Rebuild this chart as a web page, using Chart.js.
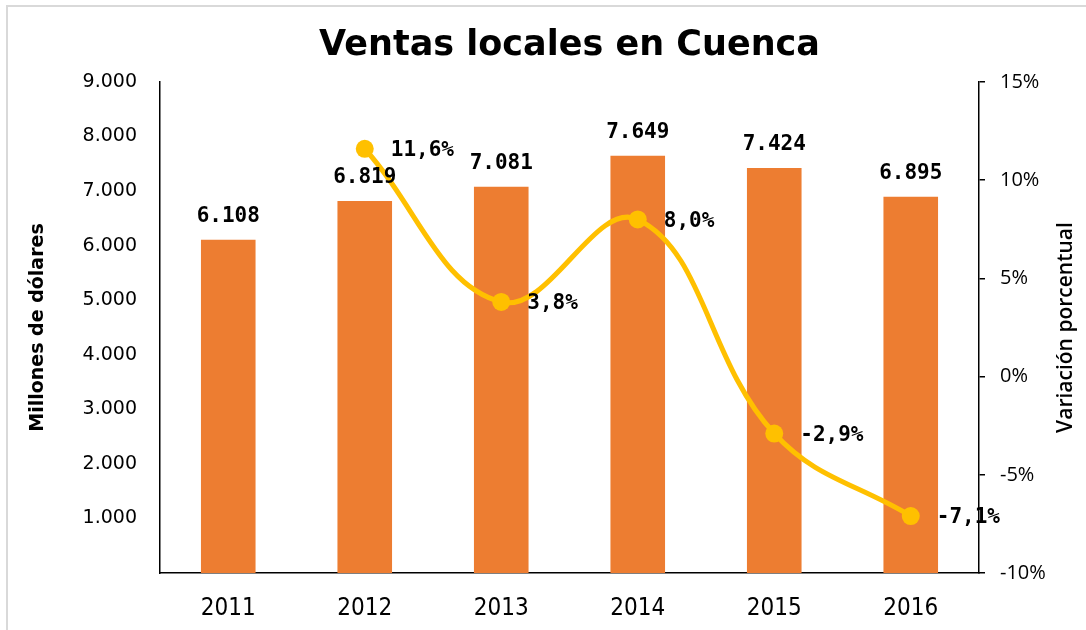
<!DOCTYPE html>
<html>
<head>
<meta charset="utf-8">
<script src="https://cdn.jsdelivr.net/npm/chart.js@4.4.1/dist/chart.umd.min.js"></script>
<style>
html,body{margin:0;padding:0;background:#fff;}
#wrap{width:1086px;height:630px;position:relative;}
</style>
</head>
<body>
<div id="wrap"><canvas id="c" width="1086" height="630"></canvas></div>
<script>
const categories = ['2011','2012','2013','2014','2015','2016'];
const ventas = [6108, 6819, 7081, 7649, 7424, 6895];
const variacion = [null, 11.6, 3.8, 8.0, -2.9, -7.1];
const leftTicks = [0, 1000, 2000, 3000, 4000, 5000, 6000, 7000, 8000, 9000];
const rightTicks = [-10, -5, 0, 5, 10, 15];

function fmtThousands(v){
  return String(Math.round(v)).replace(/\B(?=(\d{3})+(?!\d))/g, '.');
}
function fmtPct(v){
  return v.toFixed(1).replace('.', ',') + '%';
}

const decoPlugin = {
  id: 'deco',
  beforeDraw(chart){
    const ctx = chart.ctx;
    ctx.save();
    ctx.fillStyle = '#fff';
    ctx.fillRect(0,0,chart.width,chart.height);
    ctx.strokeStyle = '#d9d9d9';
    ctx.lineWidth = 2;
    ctx.strokeRect(7, 6, chart.width + 20, chart.height + 20);
    ctx.restore();
  },
  afterDraw(chart){
    const ctx = chart.ctx;
    const ca = chart.chartArea;
    const cy = (ca.top + ca.bottom) / 2;
    ctx.save();
    ctx.fillStyle = '#000';
    ctx.textAlign = 'center';
    ctx.textBaseline = 'middle';
    ctx.save();
    ctx.translate(38, cy);
    ctx.rotate(-Math.PI/2);
    ctx.font = 'bold 19px "DejaVu Sans"';
    ctx.fillText('Millones de dólares', 0, 0);
    ctx.restore();
    ctx.save();
    ctx.translate(1066, cy);
    ctx.rotate(-Math.PI/2);
    ctx.font = '600 21px "Open Sans"';
    ctx.fillText('Variación porcentual', 0, 0);
    ctx.restore();
    ctx.restore();
  },
  afterDatasetsDraw(chart){
    const ctx = chart.ctx;
    ctx.save();
    ctx.fillStyle = '#000';
    ctx.font = 'bold 21px "DejaVu Sans Mono"';
    const barMeta = chart.getDatasetMeta(0);
    barMeta.data.forEach((el, i) => {
      ctx.textAlign = 'center';
      ctx.textBaseline = 'alphabetic';
      ctx.fillText(fmtThousands(ventas[i]), el.x, el.y - 18);
    });
    const lineMeta = chart.getDatasetMeta(1);
    lineMeta.data.forEach((el, i) => {
      if (variacion[i] === null) return;
      ctx.textAlign = 'left';
      ctx.textBaseline = 'middle';
      ctx.fillText(fmtPct(variacion[i]), el.x + 26, el.y + 2);
    });
    ctx.restore();
  }
};

new Chart(document.getElementById('c'), {
  data: {
    labels: categories,
    datasets: [
      {
        type: 'bar',
        label: 'Ventas',
        data: ventas,
        backgroundColor: '#ED7D31',
        borderWidth: 0,
        yAxisID: 'y',
        categoryPercentage: 1,
        barPercentage: 0.4,
        order: 2
      },
      {
        type: 'line',
        label: 'Variación',
        data: variacion,
        borderColor: '#FFC000',
        backgroundColor: '#FFC000',
        borderWidth: 5,
        pointRadius: 9,
        pointHoverRadius: 9,
        pointBackgroundColor: '#FFC000',
        pointBorderWidth: 0,
        tension: 0.4,
        fill: false,
        yAxisID: 'y1',
        order: 1
      }
    ]
  },
  options: {
    responsive: false,
    animation: false,
    events: [],
    layout: { padding: { left: 0, right: 0, top: 0, bottom: 0 } },
    plugins: {
      legend: { display: false },
      tooltip: { enabled: false },
      title: {
        display: true,
        fullSize: false,
        text: 'Ventas locales en Cuenca',
        color: '#000',
        font: { family: '"DejaVu Sans"', size: 35, weight: 'bold', lineHeight: 1.2 },
        padding: { top: 25, bottom: 15 }
      }
    },
    scales: {
      x: {
        type: 'category',
        offset: true,
        grid: { display: false, drawTicks: false },
        border: { display: true, color: '#000', width: 1.5 },
        ticks: {
          color: '#000',
          padding: 21,
          font: { family: '"DejaVu Sans Condensed", "DejaVu Sans"', size: 24 },
          maxRotation: 0
        },
        afterFit(scale){ scale.height = 57; }
      },
      y: {
        type: 'linear',
        position: 'left',
        min: 0,
        max: 9000,
        afterBuildTicks(scale){ scale.ticks = leftTicks.map(v => ({ value: v })); },
        grid: { display: false, drawTicks: false },
        border: { display: true, color: '#000', width: 1.5 },
        ticks: {
          color: '#000',
          padding: 23,
          font: { family: '"DejaVu Sans"', size: 19 },
          callback: (v) => v === 0 ? '' : fmtThousands(v)
        },
        afterFit(scale){ scale.width = 160; }
      },
      y1: {
        type: 'linear',
        position: 'right',
        min: -10,
        max: 15,
        afterBuildTicks(scale){ scale.ticks = rightTicks.map(v => ({ value: v })); },
        grid: { display: true, drawOnChartArea: false, drawTicks: true, tickLength: 6, color: '#000', lineWidth: 1.5 },
        border: { display: true, color: '#000', width: 1.5 },
        ticks: {
          color: '#000',
          padding: 15,
          font: { family: '"Open Sans"', size: 20 },
          callback: (v) => v + '%'
        },
        afterFit(scale){ scale.width = 107; }
      }
    }
  },
  plugins: [decoPlugin]
});
</script>
</body>
</html>
